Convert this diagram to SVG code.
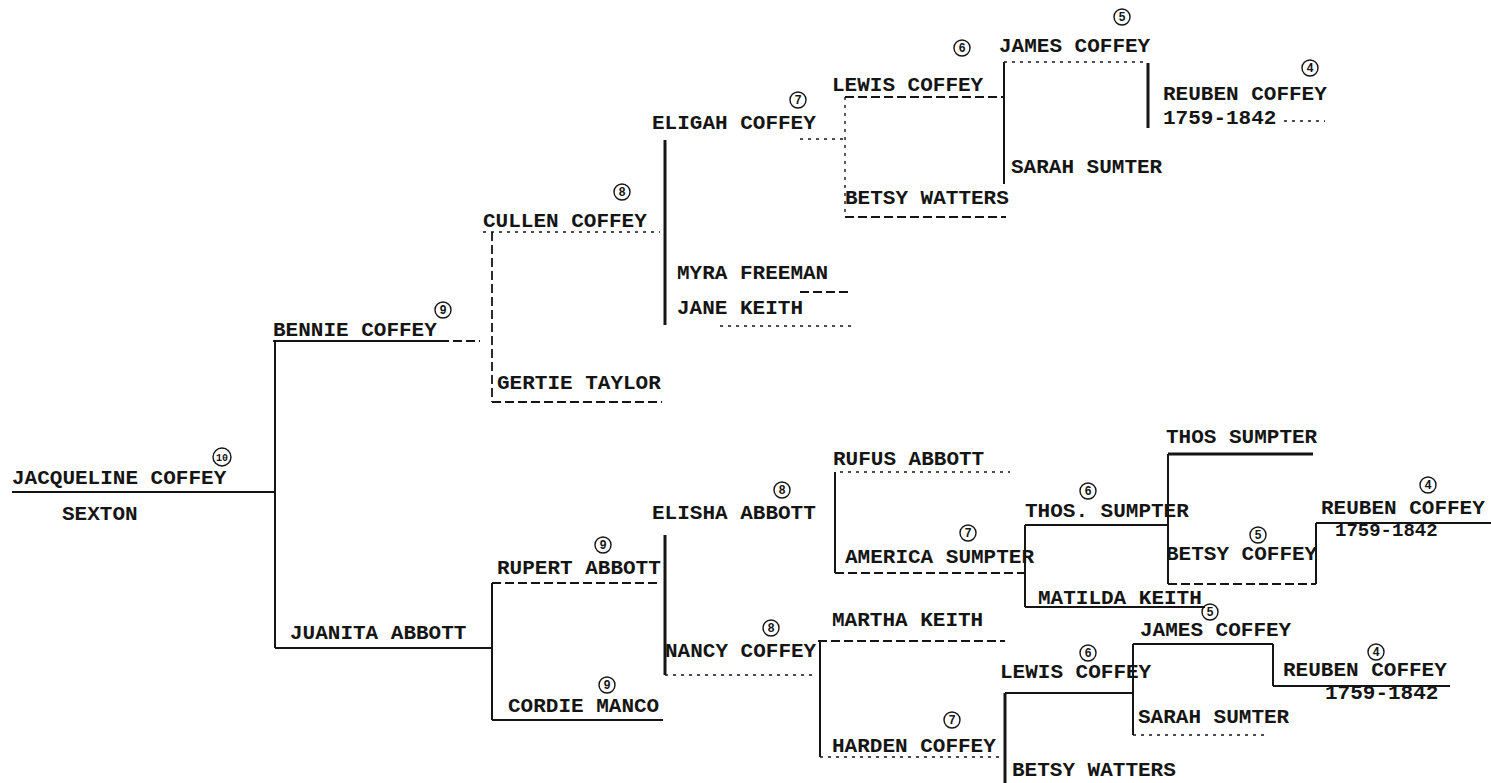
<svg xmlns="http://www.w3.org/2000/svg" width="1491" height="783" viewBox="0 0 1491 783">
<style>
  text { font-family: "Liberation Mono", "Courier New", monospace; font-size: 21px; font-weight: bold; fill: #151515; }
  .n { font-size: 12px; text-anchor: middle; }
  .yr { font-size: 19px; }
  .c { fill: none; stroke: #151515; stroke-width: 1.4; }
  .ln { fill: none; stroke: #151515; stroke-width: 2; }
  .hv { fill: none; stroke: #151515; stroke-width: 3; }
  .ds { fill: none; stroke: #151515; stroke-width: 1.8; stroke-dasharray: 9 4; }
  .dt { fill: none; stroke: #151515; stroke-width: 1.4; stroke-dasharray: 3 5; }
</style>
<rect width="1491" height="783" fill="#ffffff"/>

<g id="connectors">
  <path class="ln" d="M12,492 H275"/>
  <path class="ln" d="M275,341 V648"/>
  <path class="ln" d="M273,341 H440"/>
  <path class="ds" d="M440,341 H480"/>
  <path class="ln" d="M275,648 H492"/>
  <path class="ds" d="M492,232 V402"/>
  <path class="dt" d="M483,232 H660"/>
  <path class="ds" d="M492,402 H662"/>
  <path class="hv" d="M665,140 V325"/>
  <path class="dt" d="M800,139 H845"/>
  <path class="dt" d="M845,97 V217"/>
  <path class="ds" d="M845,97 H1004"/>
  <path class="ds" d="M845,217 H1006"/>
  <path class="ln" d="M1004,62 V184"/>
  <path class="dt" d="M1004,62 H1148"/>
  <path class="hv" d="M1148,63 V128"/>
  <path class="dt" d="M1284,121 H1325"/>
  <path class="ds" d="M800,292 H852"/>
  <path class="dt" d="M720,326 H852"/>

  <path class="ds" d="M492,583 H660"/>
  <path class="ln" d="M492,583 V720"/>
  <path class="ln" d="M492,720 H663"/>
  <path class="hv" d="M665,535 V675"/>
  <path class="dt" d="M665,675 H815"/>
  <path class="ds" d="M818,641 H1005"/>
  <path class="ln" d="M820,641 V757"/>
  <path class="dt" d="M820,757 H1000"/>
  <path class="ln" d="M835,472 V573"/>
  <path class="dt" d="M840,472 H1010"/>
  <path class="ds" d="M835,573 H1025"/>
  <path class="ln" d="M1025,525 H1168"/>
  <path class="ln" d="M1025,525 V607"/>
  <path class="ln" d="M1025,607 H1205"/>
  <path class="hv" d="M1168,454 H1313"/>
  <path class="ln" d="M1168,454 V584"/>
  <path class="ds" d="M1168,584 H1316"/>
  <path class="ln" d="M1316,523 V584"/>
  <path class="ln" d="M1316,523 H1491"/>
  <path class="hv" d="M1005,693 V783"/>
  <path class="ln" d="M1005,693 H1133"/>
  <path class="ln" d="M1133,644 V735"/>
  <path class="ln" d="M1133,644 H1273"/>
  <path class="dt" d="M1133,735 H1265"/>
  <path class="ln" d="M1273,644 V686"/>
  <path class="ln" d="M1273,686 H1450"/>
</g>

<g id="p-jacqueline"><text x="12" y="484">JACQUELINE COFFEY</text><text x="62" y="520">SEXTON</text><circle class="c" cx="222" cy="457" r="9"/><text class="n" x="222" y="461" style="font-size:10px">10</text></g>
<g id="p-bennie"><text x="273" y="336">BENNIE COFFEY</text><circle class="c" cx="443" cy="310" r="8"/><text class="n" x="443" y="314">9</text></g>
<g id="p-juanita"><text x="290" y="639">JUANITA ABBOTT</text></g>
<g id="p-cullen"><text x="483" y="227">CULLEN COFFEY</text><circle class="c" cx="622" cy="192" r="8"/><text class="n" x="622" y="196">8</text></g>
<g id="p-gertie"><text x="497" y="389">GERTIE TAYLOR</text></g>
<g id="p-eligah"><text x="652" y="129">ELIGAH COFFEY</text><circle class="c" cx="798" cy="100" r="8"/><text class="n" x="798" y="104">7</text></g>
<g id="p-myra"><text x="677" y="279">MYRA FREEMAN</text></g>
<g id="p-jane"><text x="677" y="314">JANE KEITH</text></g>
<g id="p-lewis-1"><text x="832" y="91">LEWIS COFFEY</text><circle class="c" cx="962" cy="48" r="8"/><text class="n" x="962" y="52">6</text></g>
<g id="p-betsy-watters-1"><text x="845" y="204">BETSY WATTERS</text></g>
<g id="p-james-1"><text x="999" y="52">JAMES COFFEY</text><circle class="c" cx="1122" cy="17" r="8"/><text class="n" x="1122" y="21">5</text></g>
<g id="p-sarah-1"><text x="1011" y="173">SARAH SUMTER</text></g>
<g id="p-reuben-1"><text x="1163" y="100">REUBEN COFFEY</text><text x="1163" y="124">1759-1842</text><circle class="c" cx="1310" cy="68" r="8"/><text class="n" x="1310" y="72">4</text></g>

<g id="p-rupert"><text x="497" y="574">RUPERT ABBOTT</text><circle class="c" cx="603" cy="545" r="8"/><text class="n" x="603" y="549">9</text></g>
<g id="p-cordie"><text x="508" y="712">CORDIE MANCO</text><circle class="c" cx="607" cy="685" r="8"/><text class="n" x="607" y="689">9</text></g>
<g id="p-elisha"><text x="652" y="519">ELISHA ABBOTT</text><circle class="c" cx="782" cy="490" r="8"/><text class="n" x="782" y="494">8</text></g>
<g id="p-nancy"><text x="665" y="657">NANCY COFFEY</text><circle class="c" cx="771" cy="628" r="8"/><text class="n" x="771" y="632">8</text></g>
<g id="p-rufus"><text x="833" y="465">RUFUS ABBOTT</text></g>
<g id="p-america"><text x="845" y="563">AMERICA SUMPTER</text><circle class="c" cx="968" cy="533" r="8"/><text class="n" x="968" y="537">7</text></g>
<g id="p-martha"><text x="832" y="626">MARTHA KEITH</text></g>
<g id="p-harden"><text x="832" y="752">HARDEN COFFEY</text><circle class="c" cx="952" cy="720" r="8"/><text class="n" x="952" y="724">7</text></g>
<g id="p-thos-1"><text x="1025" y="517">THOS. SUMPTER</text><circle class="c" cx="1088" cy="491" r="8"/><text class="n" x="1088" y="495">6</text></g>
<g id="p-matilda"><text x="1038" y="604">MATILDA KEITH</text></g>
<g id="p-thos-2"><text x="1166" y="443">THOS SUMPTER</text></g>
<g id="p-betsy-coffey"><text x="1166" y="560">BETSY COFFEY</text><circle class="c" cx="1258" cy="535" r="8"/><text class="n" x="1258" y="539">5</text></g>
<g id="p-reuben-2"><text x="1321" y="514">REUBEN COFFEY</text><text class="yr" x="1335" y="536">1759-1842</text><circle class="c" cx="1428" cy="485" r="8"/><text class="n" x="1428" y="489">4</text></g>
<g id="p-lewis-2"><text x="1000" y="678">LEWIS COFFEY</text><circle class="c" cx="1088" cy="653" r="8"/><text class="n" x="1088" y="657">6</text></g>
<g id="p-betsy-watters-2"><text x="1012" y="776">BETSY WATTERS</text></g>
<g id="p-james-2"><text x="1140" y="636">JAMES COFFEY</text><circle class="c" cx="1210" cy="612" r="8"/><text class="n" x="1210" y="616">5</text></g>
<g id="p-sarah-2"><text x="1138" y="723">SARAH SUMTER</text></g>
<g id="p-reuben-3"><text x="1283" y="676">REUBEN COFFEY</text><text x="1325" y="699">1759-1842</text><circle class="c" cx="1376" cy="652" r="8"/><text class="n" x="1376" y="656">4</text></g>
</svg>
